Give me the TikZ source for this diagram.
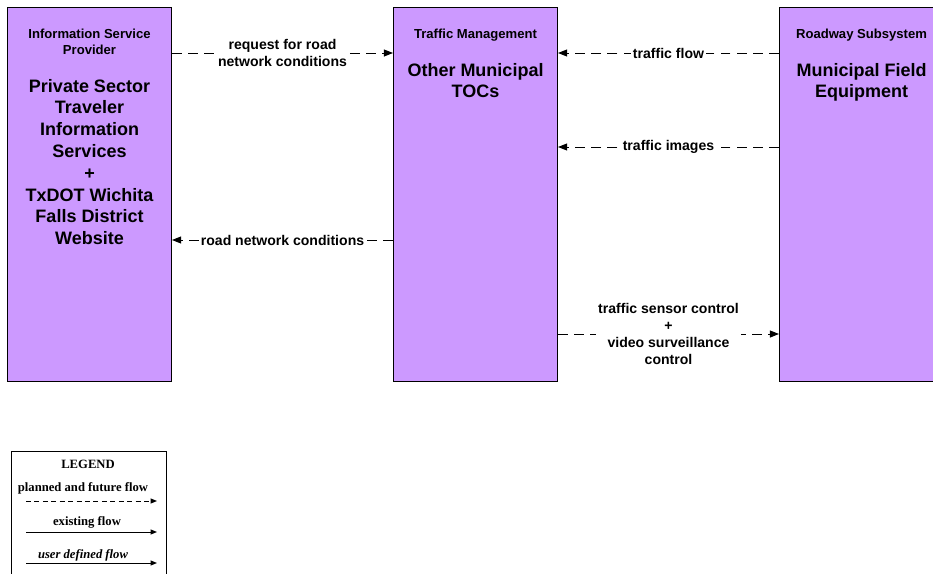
\documentclass[tikz,border=0pt]{standalone}
\usepackage{fontspec}
\setmainfont{Liberation Sans}
\newfontfamily\legendfont{Liberation Serif}
\usetikzlibrary{arrows.meta,positioning}
\definecolor{boxpurple}{HTML}{CC99FF}

\begin{document}
\begin{tikzpicture}[x=0.025cm, y=-0.025cm,
  sysbox/.style={draw, line width=0.7pt, fill=boxpurple, anchor=north west, inner sep=0pt,
    minimum width=4.1cm, minimum height=9.35cm},
  headtext/.style={font=\fontsize{9.3}{11.3}\selectfont\bfseries, align=center, inner sep=0pt, text depth=3pt},
  nametext/.style={font=\fontsize{12.8}{15.5}\selectfont\bfseries, align=center, inner sep=0pt},
  flowtext/.style={font=\fontsize{10}{12.2}\selectfont\bfseries, align=center, fill=white, inner sep=1.5pt},
  planned/.style={line width=0.7pt, dash pattern=on 7pt off 4.5pt, -{Triangle[length=6.5pt,width=5pt]}},
  legtext/.style={font=\fontsize{9}{10}\selectfont\legendfont\bfseries, inner sep=0pt},
  legarrow/.style={line width=0.7pt, -{Triangle[length=4.5pt,width=3.5pt]}}]

\useasboundingbox (0,0) rectangle (933,573);
\clip (0,0) rectangle (933,573);

\node[sysbox] (isp) at (7,7) {};
\node[headtext, below=0.55cm of isp.north] (isphead) {Information Service\\Provider};
\node[nametext, below=0.49cm of isphead] (ispname) {Private Sector\\Traveler\\Information\\Services\\+\\TxDOT Wichita\\Falls District\\Website};

\node[sysbox] (tm) at (393,7) {};
\node[headtext, below=0.55cm of tm.north] (tmhead) {Traffic Management};
\node[nametext, below=0.49cm of tmhead] (tmname) {Other Municipal\\TOCs};

\node[sysbox] (rs) at (779,7) {};
\node[headtext, below=0.55cm of rs.north] (rshead) {Roadway Subsystem};
\node[nametext, below=0.49cm of rshead] (rsname) {Municipal Field\\Equipment};

\coordinate (yreq) at (0,53);
\coordinate (yimg) at (0,147);
\coordinate (yrnc) at (0,240);
\coordinate (yctl) at (0,334);

\draw[planned] (isp.east |- yreq) -- node[flowtext] (req) {request for road\\network conditions} (tm.west |- yreq);
\draw[planned] (rs.west |- yreq) -- node[flowtext] (flow) {traffic flow} (tm.east |- yreq);
\draw[planned] (rs.west |- yimg) -- node[flowtext] (img) {traffic images} (tm.east |- yimg);
\draw[planned] (tm.west |- yrnc) -- node[flowtext] (rnc) {road network conditions} (isp.east |- yrnc);
\draw[planned] (tm.east |- yctl) -- node[flowtext] (ctl) {traffic sensor control\\+\\video surveillance\\control} (rs.west |- yctl);

\node[draw, line width=0.7pt, anchor=north west, minimum width=3.875cm, minimum height=3.75cm] (legend) at (11,451) {};
\node[legtext] (legtitle) at (88,464) {LEGEND};
\node[legtext] (legplanned) at (83,488) {planned and future flow};
\node[legtext] (legexisting) at (87,522) {existing flow};
\node[legtext, font=\fontsize{9}{10}\selectfont\legendfont\bfseries\itshape] (leguser) at (83,555) {user defined flow};
\coordinate (pl1) at (26,501);
\coordinate (pl2) at (157,501);
\coordinate (ex1) at (26,532);
\coordinate (ex2) at (157,532);
\coordinate (us1) at (26,563);
\coordinate (us2) at (157,563);
\draw[legarrow, dash pattern=on 3.5pt off 2.5pt] (pl1) -- (pl2);
\draw[legarrow] (ex1) -- (ex2);
\draw[legarrow] (us1) -- (us2);

\end{tikzpicture}
\end{document}
